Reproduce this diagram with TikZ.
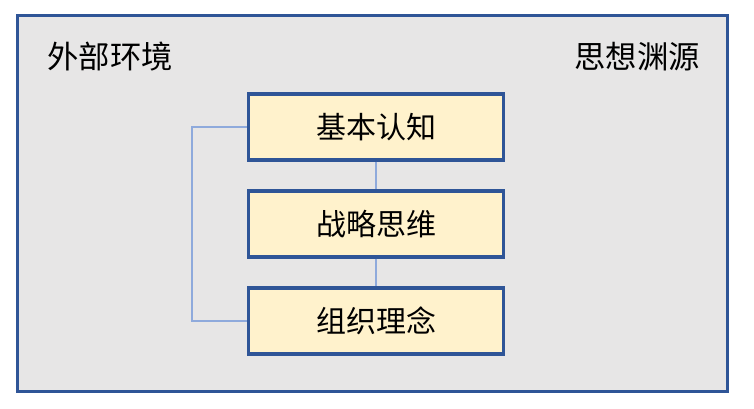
\documentclass[tikz,border=0pt]{standalone}
\usepackage{fontspec}
\newfontfamily\cjk{Noto Sans CJK SC}
\definecolor{outerfill}{HTML}{E7E6E6}
\definecolor{bluebd}{HTML}{2F5597}
\definecolor{boxfill}{HTML}{FFF2CC}
\definecolor{linkc}{HTML}{8FAADC}
\begin{document}
\begin{tikzpicture}[x=0.75pt,y=-0.75pt,
  stepbox/.style={draw=bluebd,line width=2.6pt,fill=boxfill,minimum width=255*0.75pt,minimum height=66*0.75pt,inner sep=0pt,font=\cjk\fontsize{22.5}{26}\selectfont},
  label/.style={font=\cjk\fontsize{23.5}{27}\selectfont,inner sep=0pt},
  link/.style={draw=linkc,line width=1pt}]
\useasboundingbox (0,0) rectangle (754,408);
\node[draw=bluebd,line width=2.4pt,fill=outerfill,minimum width=710*0.75pt,minimum height=376*0.75pt,inner sep=0pt] (outer) at (372.5,203.5) {};
\node[label] (env) at (110,57) {外部环境};
\node[label] (src) at (637,57) {思想渊源};
\coordinate (lc) at (192,0);
\node[stepbox] (b1) at (376,127) {基本认知};
\node[stepbox] (b2) at (376,224) {战略思维};
\node[stepbox] (b3) at (376,321) {组织理念};
\draw[link] (b1.south) -- (b2.north);
\draw[link] (b2.south) -- (b3.north);
\draw[link] (b1.west) -- (b1.west -| lc) -- (b3.west -| lc) -- (b3.west);
\end{tikzpicture}
\end{document}
